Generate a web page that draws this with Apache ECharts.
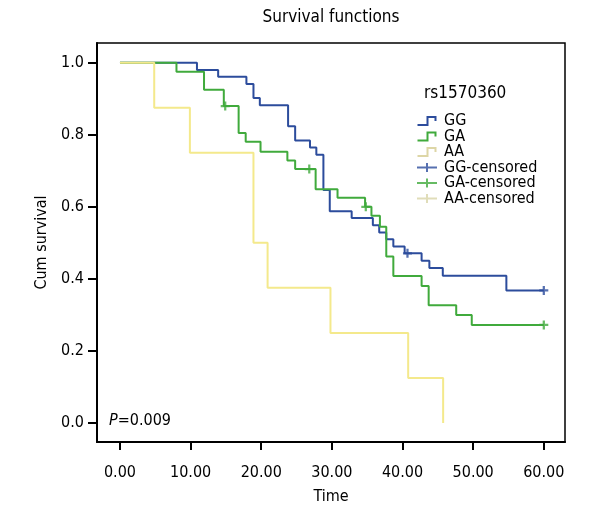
<!DOCTYPE html>
<html><head><meta charset="utf-8">
<script src="https://cdn.jsdelivr.net/npm/echarts@6/dist/echarts.min.js"></script>
<style>html,body{margin:0;padding:0;background:#fff}#c{width:600px;height:520px}</style>
</head><body><div id="c"></div>
<script>
// ---- data ----
const ggTimes = [0, 10.9, 13.9, 17.9, 18.9, 19.8, 23.8, 24.8, 26.9, 27.8, 28.8, 29.7, 32.8, 35.8, 36.7, 37.7, 38.7, 40.3, 42.7, 43.8, 45.7, 54.7, 60];
const ggSurv  = [1.0, 0.980, 0.961, 0.941, 0.902, 0.882, 0.824, 0.784, 0.765, 0.745, 0.647, 0.588, 0.569, 0.549, 0.529, 0.510, 0.490, 0.471, 0.450, 0.430, 0.409, 0.368, 0.368];
const ggCensTimes = [40.7, 60];
const ggCensSurv  = [0.471, 0.368];

const gaTimes = [0, 8.0, 11.9, 14.7, 16.8, 17.8, 19.9, 23.7, 24.8, 27.7, 30.8, 34.7, 35.6, 36.8, 37.7, 38.7, 42.7, 43.7, 47.6, 49.8, 60];
const gaSurv  = [1.0, 0.975, 0.925, 0.880, 0.805, 0.781, 0.753, 0.729, 0.705, 0.649, 0.625, 0.600, 0.575, 0.545, 0.462, 0.408, 0.380, 0.327, 0.300, 0.272, 0.272];
const gaCensTimes = [14.9, 26.8, 34.8, 60];
const gaCensSurv  = [0.880, 0.705, 0.600, 0.272];

const aaTimes = [0, 4.85, 9.9, 18.9, 20.9, 29.8, 40.8, 45.75];
const aaSurv  = [1.0, 0.875, 0.75, 0.5, 0.375, 0.25, 0.125, 0.0];
const aaCensTimes = [];
const aaCensSurv  = [];

const xTicks = [0, 10, 20, 30, 40, 50, 60];
const yTicks = [0, 0.2, 0.4, 0.6, 0.8, 1.0];
const groupNames = ['GG', 'GA', 'AA'];
const legendTitle = 'rs1570360';
const pText = '=0.009';

// ---- build ----
const FONT = "'Liberation Sans Narrow','DejaVu Sans Condensed',sans-serif";
const colors = {GG: '#2c4c9c', GA: '#40aa3c', AA: '#f4e98c'};
const legendColors = {GG: '#2c4c9c', GA: '#40aa3c', AA: '#ddd6a6', 'GG-censored': '#2c4c9c', 'GA-censored': '#40aa3c', 'AA-censored': '#d8d4a8'};
const zip = (a, b) => a.map((v, i) => [v, b[i]]);
const lines = {GG: zip(ggTimes, ggSurv), GA: zip(gaTimes, gaSurv), AA: zip(aaTimes, aaSurv)};
const cens = {GG: zip(ggCensTimes, ggCensSurv), GA: zip(gaCensTimes, gaCensSurv), AA: zip(aaCensTimes, aaCensSurv)};

const plusPath = 'path://M3,0 H5 V3 H8 V5 H5 V8 H3 V5 H0 V3 H3 Z';
const stepIcon = 'path://M0,9 L9,9 L9,1 L19,1 L19,6 L17,6 L17,3 L11,3 L11,11 L0,11 Z';
const plusIcon = 'path://M0,3.5 H20 V5.5 H0 Z M9,0 H11 V9 H9 Z';

const series = [];
groupNames.forEach(g => {
  series.push({
    name: g, type: 'line', step: 'end', data: lines[g], showSymbol: false, symbol: 'none',
    lineStyle: {color: colors[g], width: 2}, itemStyle: {color: colors[g]}, animation: false
  });
});
groupNames.forEach(g => {
  series.push({
    name: g + '-censored', type: 'scatter', data: cens[g], symbol: plusPath, symbolSize: 9,
    itemStyle: {color: colors[g]}, animation: false, z: 3
  });
});

const legendData = [];
groupNames.forEach(g => legendData.push({name: g, icon: stepIcon, itemStyle: {color: legendColors[g]}}));
groupNames.forEach(g => legendData.push({name: g + '-censored', icon: plusIcon, itemStyle: {color: legendColors[g + '-censored']}}));

const chart = echarts.init(document.getElementById('c'), null, {renderer: 'canvas'});
chart.setOption({
  backgroundColor: '#fff',
  animation: false,
  textStyle: {fontFamily: FONT},
  grid: {left: 97, right: 35, top: 43, bottom: 78, show: true, borderColor: '#000', borderWidth: 1.5, containLabel: false},
  xAxis: {
    type: 'value', min: -3.25, max: 63,
    name: 'Time', nameLocation: 'middle', nameGap: 47,
    nameTextStyle: {fontSize: 16, color: '#000', fontFamily: FONT},
    axisLine: {show: true, onZero: false, lineStyle: {color: '#000', width: 2}},
    axisTick: {show: true, customValues: xTicks, length: 8, lineStyle: {color: '#000', width: 2}},
    axisLabel: {customValues: xTicks, formatter: v => v.toFixed(2), fontSize: 16, color: '#000', margin: 23, fontFamily: FONT},
    splitLine: {show: false}
  },
  yAxis: {
    type: 'value', min: -0.053, max: 1.055,
    name: 'Cum survival', nameLocation: 'middle', nameGap: 40,
    nameTextStyle: {fontSize: 16, color: '#000', fontFamily: FONT},
    axisLine: {show: true, onZero: false, lineStyle: {color: '#000', width: 2}},
    axisTick: {show: true, customValues: yTicks, length: 9, lineStyle: {color: '#000', width: 2}},
    axisLabel: {customValues: yTicks, formatter: v => v.toFixed(1), fontSize: 16, color: '#000', margin: 13, fontFamily: FONT},
    splitLine: {show: false}
  },
  legend: {
    orient: 'vertical', left: 412, top: 108, itemWidth: 20, itemHeight: 10, itemGap: -0.5,
    data: legendData, selectedMode: false,
    textStyle: {fontSize: 16, color: '#000', fontFamily: FONT, padding: [0, 0, 0, 2]}
  },
  graphic: [
    {type: 'text', x: 331, y: 18, style: {text: 'Survival functions', font: '17px ' + FONT, fill: '#000', textAlign: 'center', textVerticalAlign: 'middle'}},
    {type: 'text', x: 424, y: 94, style: {text: legendTitle, font: '17px ' + FONT, fill: '#000', textAlign: 'left', textVerticalAlign: 'middle'}},
    {type: 'text', x: 109, y: 421, style: {text: '{i|P}' + pText, font: '16px ' + FONT, fill: '#000', textAlign: 'left', textVerticalAlign: 'middle',
      rich: {i: {fontStyle: 'italic', fontSize: 16, fontFamily: FONT, fill: '#000'}}}}
  ],
  series: series
});
</script>
</body></html>
